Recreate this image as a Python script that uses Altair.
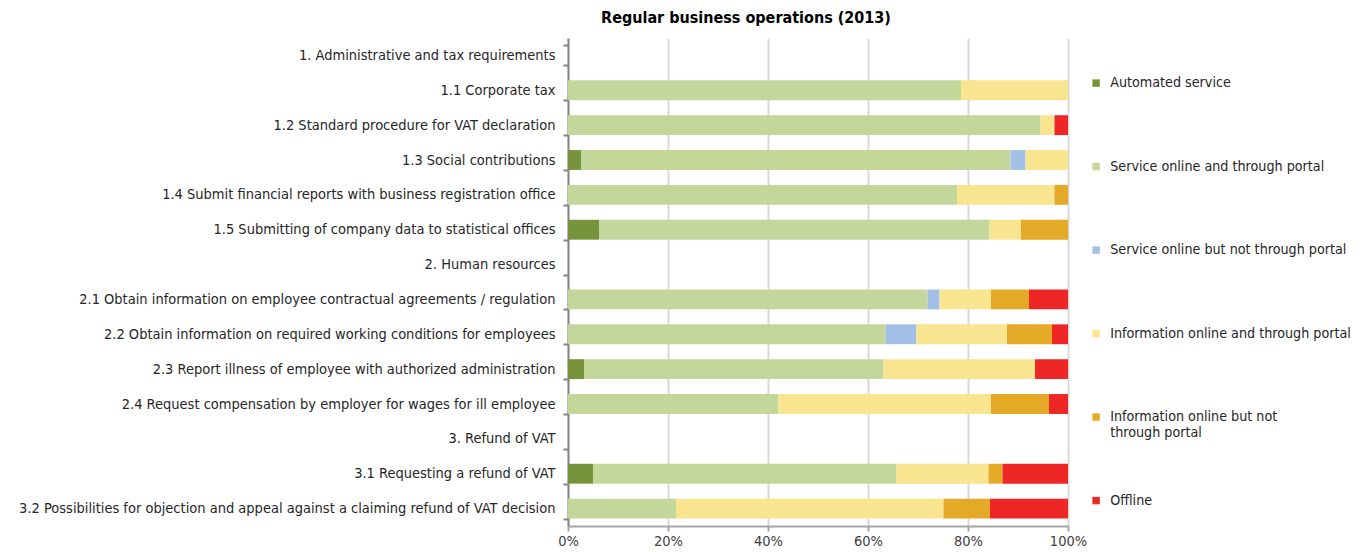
import altair as alt
import pandas as pd

title_text = "Regular business operations (2013)"

rows = [
    "1. Administrative and tax requirements",
    "1.1 Corporate tax",
    "1.2 Standard procedure for VAT declaration",
    "1.3 Social contributions",
    "1.4 Submit financial reports with business registration office",
    "1.5 Submitting of company data to statistical offices",
    "2. Human resources",
    "2.1 Obtain information on employee contractual agreements / regulation",
    "2.2 Obtain information on required working conditions for employees",
    "2.3 Report illness of employee with authorized administration",
    "2.4 Request compensation by employer for wages for ill employee",
    "3. Refund of VAT",
    "3.1 Requesting a refund of VAT",
    "3.2 Possibilities for objection and appeal against a claiming refund of VAT decision",
]

data_rows = [
    "1.1 Corporate tax",
    "1.2 Standard procedure for VAT declaration",
    "1.3 Social contributions",
    "1.4 Submit financial reports with business registration office",
    "1.5 Submitting of company data to statistical offices",
    "2.1 Obtain information on employee contractual agreements / regulation",
    "2.2 Obtain information on required working conditions for employees",
    "2.3 Report illness of employee with authorized administration",
    "2.4 Request compensation by employer for wages for ill employee",
    "3.1 Requesting a refund of VAT",
    "3.2 Possibilities for objection and appeal against a claiming refund of VAT decision",
]

series = [
    "Automated service",
    "Service online and through portal",
    "Service online but not through portal",
    "Information online and through portal",
    "Information online but not through portal",
    "Offline",
]
colors = ["#77933c", "#c4d79b", "#a2c0e6", "#f9e48f", "#e5a928", "#ee2626"]

automated = [0, 0, 2.6, 0, 6.2, 0, 0, 3.2, 0, 5.0, 0]
svc_portal = [78.6, 94.5, 85.9, 77.8, 78.1, 71.9, 63.5, 59.9, 42.1, 60.7, 21.6]
svc_noportal = [0, 0, 3.0, 0, 0, 2.4, 6.2, 0, 0, 0, 0]
info_portal = [21.4, 2.8, 8.5, 19.5, 6.3, 10.3, 18.1, 30.3, 42.5, 18.4, 53.5]
info_noportal = [0, 0, 0, 2.7, 9.4, 7.6, 9.0, 0, 11.6, 2.8, 9.3]
offline = [0, 2.7, 0, 0, 0, 7.8, 3.2, 6.6, 3.8, 13.1, 15.6]

values = [automated, svc_portal, svc_noportal, info_portal, info_noportal, offline]

records = []
for si, (s, vals) in enumerate(zip(series, values)):
    for r, v in zip(data_rows, vals):
        records.append({"row": r, "series": s, "order": si, "value": v / 100.0})
df = pd.DataFrame(records)

FONT = "Liberation Sans Narrow, DejaVu Sans Condensed, Arial Narrow, sans-serif"

label_expr = (
    "datum.label == 'Information online but not through portal' ? "
    "['Information online but not', 'through portal'] : [datum.label, '']"
)

chart = (
    alt.Chart(df)
    .mark_bar()
    .encode(
        x=alt.X(
            "value:Q",
            stack="zero",
            scale=alt.Scale(domain=[0, 1], nice=False),
            axis=alt.Axis(
                title=None,
                format=".0%",
                values=[0, 0.2, 0.4, 0.6, 0.8, 1.0],
                grid=True,
                gridColor="#d9d9d9",
                gridWidth=2,
                domainColor="#a6a6a6",
                domainWidth=2,
                tickColor="#a6a6a6",
                tickWidth=2,
                tickSize=5,
                labelFlush=False,
                labelFont=FONT,
                labelFontSize=14.5,
                labelColor="#404040",
                labelPadding=3,
            ),
        ),
        y=alt.Y(
            "row:N",
            sort=rows,
            scale=alt.Scale(domain=rows, paddingInner=0.43, paddingOuter=0.215),
            axis=alt.Axis(
                title=None,
                tickBand="extent",
                grid=False,
                domainColor="#868686",
                domainWidth=2,
                tickColor="#868686",
                tickWidth=2,
                tickSize=5,
                labelFont=FONT,
                labelFontSize=14.5,
                labelColor="#262626",
                labelLimit=700,
                labelPadding=8,
            ),
        ),
        color=alt.Color(
            "series:N",
            scale=alt.Scale(domain=series, range=colors),
            legend=alt.Legend(
                title=None,
                orient="none",
                legendX=521,
                legendY=38,
                symbolType="square",
                symbolSize=55,
                symbolStrokeWidth=0,
                labelFont=FONT,
                labelFontSize=14.2,
                labelColor="#262626",
                labelLimit=400,
                labelOffset=7,
                labelExpr=label_expr,
                rowPadding=52.5,
            ),
        ),
        order=alt.Order("order:Q"),
    )
    .properties(
        width=500,
        height=488,
        padding={"left": 10, "top": 2, "right": 5, "bottom": 5},
        title=alt.TitleParams(
            title_text,
            font=FONT,
            fontSize=16,
            fontWeight="bold",
            color="#000000",
            anchor="middle",
            dx=-72,
        ),
    )
    .configure_view(stroke=None)
)

chart.save("out.html", embed_options={"renderer": "svg", "actions": False})
